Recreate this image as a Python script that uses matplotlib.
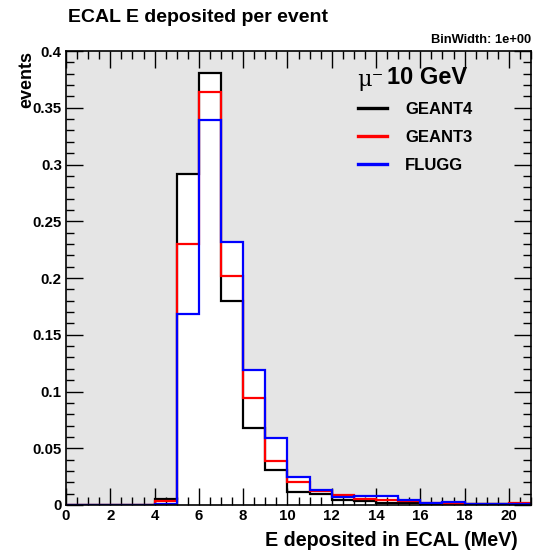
import numpy as np
import matplotlib
matplotlib.use("Agg")
import matplotlib.pyplot as plt
from matplotlib.ticker import MultipleLocator

plt.rcParams['font.family'] = ['Liberation Sans', 'DejaVu Sans']
plt.rcParams['font.weight'] = 'bold'

# bin edges 0..21, bin width 1 MeV
edges = np.arange(0, 22, 1)
geant4 = [0, 0, 0, 0, 0.005, 0.292, 0.381, 0.180, 0.068, 0.031, 0.0113,
          0.0093, 0.004, 0.0035, 0.002, 0.002, 0.001, 0.001, 0.0005, 0.0005, 0.0005]
geant3 = [0, 0, 0, 0, 0.0035, 0.230, 0.364, 0.202, 0.094, 0.039, 0.020,
          0.012, 0.009, 0.005, 0.004, 0.0035, 0.0015, 0.001, 0.0007, 0.0007, 0.002]
flugg = [0, 0, 0, 0, 0.001, 0.168, 0.339, 0.232, 0.119, 0.059, 0.025,
         0.0134, 0.0069, 0.0075, 0.0078, 0.004, 0.002, 0.003, 0.0005, 0.0005, 0.0005]

names = ["GEANT4", "GEANT3", "FLUGG"]
colors = ["black", "#ff0000", "#0000ff"]
series = [geant4, geant3, flugg]

fig = plt.figure(figsize=(5.36, 5.55), dpi=100)
ax = fig.add_axes([66/536, 1 - 505/555, 465/536, 454/555])
ax.set_facecolor("#e5e5e5")

# white fill under the histograms
env = np.max(np.array(series), axis=0)
ax.stairs(env, edges, fill=True, color="white", baseline=0, zorder=1)

handles = []
for vals, c, n in zip(series, colors, names):
    ax.stairs(vals, edges, baseline=None, color=c, lw=1.6, zorder=2)
    h, = ax.plot([], [], color=c, lw=2.4, label=n)
    handles.append(h)

ax.set_xlim(0, 21)
ax.set_ylim(0, 0.4)
ax.xaxis.set_major_locator(MultipleLocator(2))
ax.xaxis.set_minor_locator(MultipleLocator(0.5))
ax.yaxis.set_major_locator(MultipleLocator(0.05))
ax.yaxis.set_minor_locator(MultipleLocator(0.01))
ax.tick_params(which="both", direction="in", top=True, right=True, width=1)
ax.tick_params(which="major", length=12, labelsize=10.8, pad=3)
ax.tick_params(which="minor", length=6)
for s in ax.spines.values():
    s.set_linewidth(1.2)
ax.set_yticks(np.arange(0, 0.41, 0.05))
ax.set_yticklabels(["0", "0.05", "0.1", "0.15", "0.2", "0.25", "0.3", "0.35", "0.4"])

fig.text(68/536, 1 - 17/555, "ECAL E deposited per event", fontsize=14,
         fontweight="bold", ha="left", va="center")
fig.text(531/536, 1 - 40/555, "BinWidth: 1e+00", fontsize=9.3,
         fontweight="bold", ha="right", va="center")
fig.text(518/536, 1 - 541/555, "E deposited in ECAL (MeV)", fontsize=14.2,
         fontweight="bold", ha="right", va="center")
fig.text(27/536, 1 - 51/555, "events", fontsize=13, fontweight="bold",
         rotation=90, ha="center", va="top")

fig.text(357/536, 1 - 80/555, "\u03bc\u207b", fontsize=16, fontweight="normal",
         family="DejaVu Serif", ha="left", va="center")
fig.text(387/536, 1 - 78/555, "10 GeV", fontsize=17, fontweight="bold",
         ha="left", va="center")
ax.legend(handles=handles, loc="upper left", bbox_to_anchor=(0.628, 0.888),
          frameon=False, fontsize=12, handlelength=1.74, handletextpad=1.08,
          labelspacing=0.78, borderaxespad=0, borderpad=0)

fig.savefig("out.png", dpi=100)
